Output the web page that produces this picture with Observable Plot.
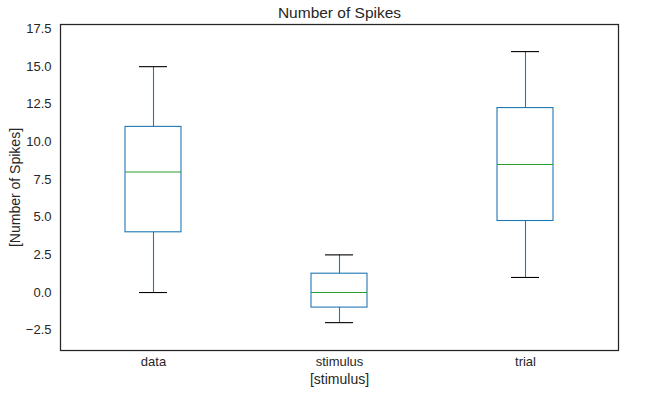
<!DOCTYPE html>
<html>
<head>
<meta charset="utf-8">
<script src="https://cdn.jsdelivr.net/npm/d3@7"></script>
<script src="https://cdn.jsdelivr.net/npm/@observablehq/plot@0.6"></script>
<style>
  body { margin: 0; background: #fff; }
  #chart svg { display: block; }
</style>
</head>
<body>
<div id="chart"></div>
<script>
const categories = ["data", "stimulus", "trial"];
const whiskerLow = [0, -2, 1];
const q1 = [4, -1, 4.75];
const median = [8, 0, 8.5];
const q3 = [11, 1.25, 12.25];
const whiskerHigh = [15, 2.5, 16];
const yTicks = [-2.5, 0, 2.5, 5, 7.5, 10, 12.5, 15, 17.5];
const title = "Number of Spikes";
const xLabel = "[stimulus]";
const yLabel = "[Number of Spikes]";

const rows = categories.map((c, i) => ({
  cat: c, lo: whiskerLow[i], q1: q1[i], med: median[i], q3: q3[i], hi: whiskerHigh[i]
}));

const boxColor = "#1f77b4";
const medColor = "#2ca02c";
const textColor = "#262626";
const font = "'Liberation Sans', Arial, sans-serif";

const chart = Plot.plot({
  width: 645,
  height: 396,
  marginLeft: 60,
  marginRight: 27,
  marginTop: 24,
  marginBottom: 46,
  style: { fontFamily: font, color: textColor, background: "#fff" },
  x: { domain: categories, padding: 0, axis: null },
  y: { domain: [-3.85, 17.8], axis: null },
  marks: [
    Plot.axisY({ ticks: yTicks, tickFormat: d3.format(".1f"), tickSize: 0, tickPadding: 9, fontSize: 13, label: null }),
    Plot.axisX({ tickSize: 0, tickPadding: 6, fontSize: 13, label: null }),
    Plot.ruleX(rows, { x: "cat", y1: "lo", y2: "q1", stroke: boxColor, strokeWidth: 1.1 }),
    Plot.ruleX(rows, { x: "cat", y1: "q3", y2: "hi", stroke: boxColor, strokeWidth: 1.1 }),
    Plot.tickY(rows, { x: "cat", y: "lo", stroke: "#000", strokeWidth: 1.1, insetLeft: 79, insetRight: 79 }),
    Plot.tickY(rows, { x: "cat", y: "hi", stroke: "#000", strokeWidth: 1.1, insetLeft: 79, insetRight: 79 }),
    Plot.barY(rows, { x: "cat", y1: "q1", y2: "q3", fill: "none", stroke: boxColor, strokeWidth: 1.1, insetLeft: 65, insetRight: 65 }),
    Plot.tickY(rows, { x: "cat", y: "med", stroke: medColor, strokeWidth: 1.1, insetLeft: 65, insetRight: 65 }),
    Plot.frame({ stroke: textColor, strokeWidth: 1.25 }),
    Plot.text([title], { text: d => d, frameAnchor: "top", dy: -11, lineAnchor: "middle", textAnchor: "middle", fontSize: 15.5, fill: textColor }),
    Plot.text([xLabel], { text: d => d, frameAnchor: "bottom", dy: 29, lineAnchor: "middle", textAnchor: "middle", fontSize: 14, fill: textColor }),
    Plot.text([yLabel], { text: d => d, frameAnchor: "left", dx: -45, rotate: -90, lineAnchor: "middle", textAnchor: "middle", fontSize: 14, fill: textColor })
  ]
});
document.getElementById("chart").appendChild(chart);
</script>
</body>
</html>
